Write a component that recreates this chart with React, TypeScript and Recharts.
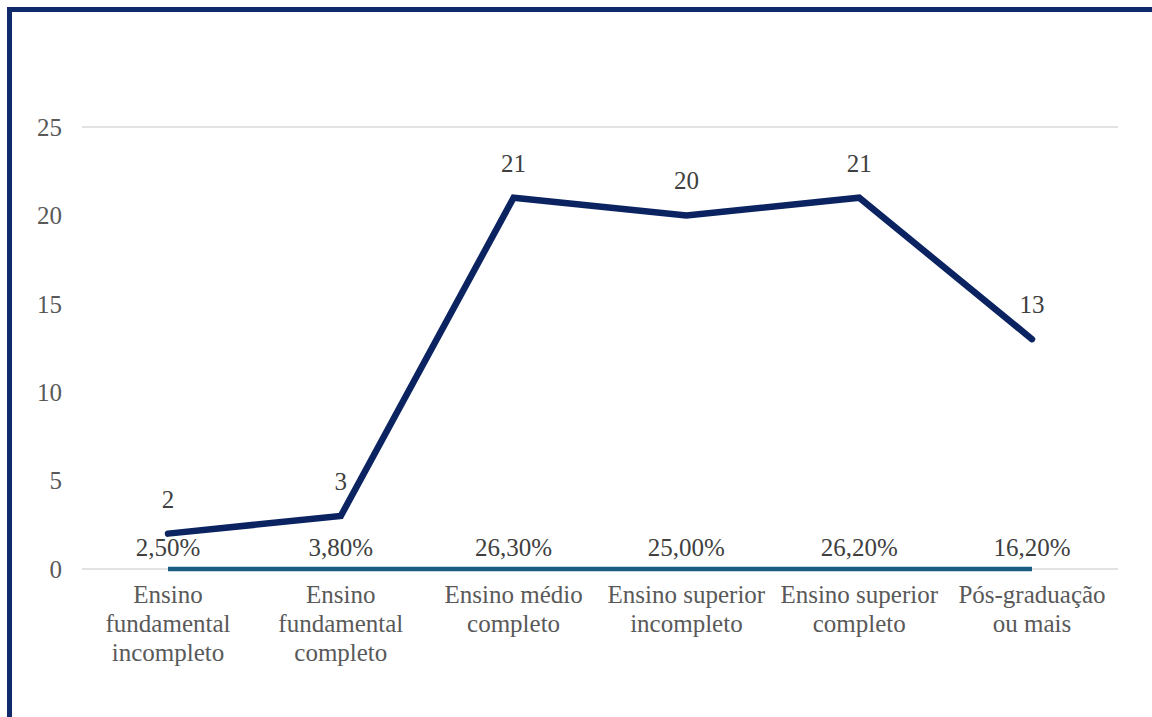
import { LineChart, Line, XAxis, YAxis, CartesianGrid, LabelList } from "recharts";

const categories = [
  "Ensino\nfundamental\nincompleto",
  "Ensino\nfundamental\ncompleto",
  "Ensino médio\ncompleto",
  "Ensino superior\nincompleto",
  "Ensino superior\ncompleto",
  "Pós-graduação\nou mais",
];
const counts = [2, 3, 21, 20, 21, 13];
const percents = [2.5, 3.8, 26.3, 25.0, 26.2, 16.2];
const yTicks = [0, 5, 10, 15, 20, 25];

const data = categories.map((name, i) => ({ name, count: counts[i], pct: percents[i] }));

const FONT = "'Times New Roman', Times, 'Liberation Serif', 'DejaVu Serif', serif";

const CategoryTick = (props: any) => {
  const { x, y, payload } = props;
  const lines = String(payload.value).split("\n");
  return (
    <text x={x} y={y} textAnchor="middle" fill="#595959" fontSize={25} style={{ fontFamily: FONT }}>
      {lines.map((l, i) => (
        <tspan key={i} x={x} y={y + 26 + i * 29}>
          {l}
        </tspan>
      ))}
    </text>
  );
};

const fmtPct = (v: any) => Number(v).toFixed(2).replace(".", ",") + "%";

const App = () => {
  return (
    <div style={{ position: "absolute", left: 0, top: 0, width: 1152, height: 717, background: "#fff", overflow: "hidden", fontFamily: FONT }}>
      <div
        style={{
          position: "absolute",
          left: 7,
          top: 7,
          width: 1160,
          height: 720,
          borderTop: "5px solid #0e2a6a",
          borderLeft: "5px solid #0e2a6a",
        }}
      />
      <div style={{ position: "absolute", left: 0, top: 0 }}>
        <LineChart width={1152} height={717} data={data} margin={{ top: 127, right: 34, bottom: 48, left: 22 }} style={{ fontFamily: FONT }}>
          <CartesianGrid horizontal vertical={false} stroke="#d9d9d9" strokeWidth={1.5} />
          <XAxis
            dataKey="name"
            axisLine={false}
            tickLine={false}
            interval={0}
            height={100}
            padding={{ left: 86, right: 86 }}
            tick={<CategoryTick />}
          />
          <YAxis
            yAxisId="count"
            domain={[0, 25]}
            ticks={yTicks}
            axisLine={false}
            tickLine={false}
            width={60}
            tickMargin={0}
            tick={{ fill: "#595959", fontSize: 25, style: { fontFamily: FONT }, dx: -14 }}
          />
          <YAxis yAxisId="pct" hide domain={[0, 100000]} />
          <Line
            yAxisId="pct"
            dataKey="pct"
            stroke="#1b5c82"
            strokeWidth={4.5}
            dot={false}
            isAnimationActive={false}
          >
            <LabelList
              dataKey="pct"
              position="top"
              offset={13}
              formatter={fmtPct}
              fill="#404040"
              fontSize={25}
              style={{ fontFamily: FONT }}
            />
          </Line>
          <Line
            yAxisId="count"
            dataKey="count"
            stroke="#0b2461"
            strokeWidth={6.5}
            strokeLinecap="round"
            dot={false}
            isAnimationActive={false}
          >
            <LabelList
              dataKey="count"
              position="top"
              offset={26}
              fill="#404040"
              fontSize={25}
              style={{ fontFamily: FONT }}
            />
          </Line>
        </LineChart>
      </div>
    </div>
  );
};

export default App;
